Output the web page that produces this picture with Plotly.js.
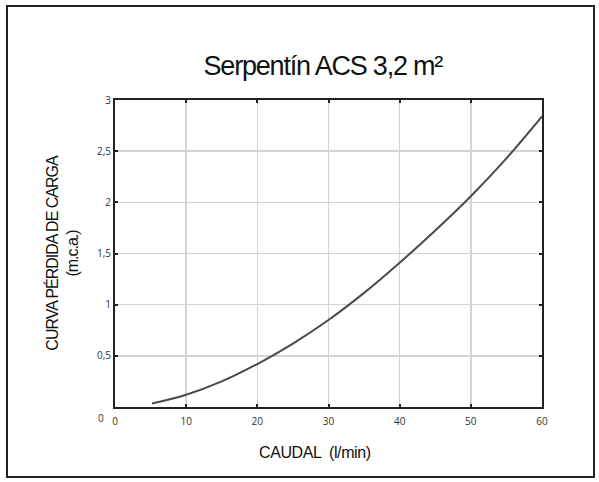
<!DOCTYPE html>
<html>
<head>
<meta charset="utf-8">
<script src="https://cdn.plot.ly/plotly-3.0.1.min.js"></script>
<style>
  body { margin: 0; padding: 0; background: #fff; }
  #wrap { position: relative; width: 599px; height: 482px; }
  #chart { position: absolute; left: 0; top: 0; width: 599px; height: 482px; }
  #frame { position: absolute; left: 6px; top: 5px; width: 585px; height: 469px; border: 2px solid #222; pointer-events: none; }
  .gtitle { letter-spacing: -1.2px; }
  .ytitle { letter-spacing: -1px; }
  .annotation-text[data-unformatted^="CAUDAL"] { letter-spacing: -0.4px; }
</style>
</head>
<body>
<div id="wrap">
  <div id="chart"></div>
  <div id="frame"></div>
</div>
<script>
// Data
const caudal = [5.2, 10, 15, 20, 25, 30, 35, 40, 45, 50, 55, 60];
const perdida = [0.034, 0.12, 0.25, 0.42, 0.62, 0.85, 1.115, 1.41, 1.725, 2.06, 2.43, 2.84];

const xTickVals = [0, 10, 20, 30, 40, 50, 60];
const xTickText = ["0", "10", "20", "30", "40", "50", "60"];
const yTickVals = [0.5, 1, 1.5, 2, 2.5, 3];
const yTickText = ["0,5", "1", "1,5", "2", "2,5", "3"];

const trace = {
  x: caudal,
  y: perdida,
  type: 'scatter',
  mode: 'lines',
  line: { color: '#4a4a4a', width: 2, shape: 'spline', smoothing: 1 },
  hoverinfo: 'skip'
};

const tickFont = { family: 'Open Sans, DejaVu Sans, sans-serif', size: 10, color: '#333' };

const layout = {
  width: 599,
  height: 482,
  margin: { l: 115, r: 57, t: 100, b: 75 },
  paper_bgcolor: '#fff',
  plot_bgcolor: '#fff',
  showlegend: false,
  title: {
    text: 'Serpentín ACS 3,2 m²',
    font: { family: 'Liberation Sans, Arial, sans-serif', size: 27, color: '#111' },
    x: 0.539, xanchor: 'center',
    y: 0.865, yanchor: 'middle'
  },
  xaxis: {
    range: [0, 60],
    tickvals: xTickVals,
    ticktext: xTickText,
    showgrid: true,
    gridcolor: '#d4d4d4',
    gridwidth: 1.5,
    zeroline: false,
    showline: true,
    linecolor: '#222',
    linewidth: 2,
    mirror: 'ticks',
    ticks: 'inside',
    ticklen: 3,
    tickcolor: '#222',
    tickwidth: 2,
    ticklabelstandoff: 4,
    tickfont: tickFont
  },
  yaxis: {
    range: [0, 3],
    tickvals: yTickVals,
    ticktext: yTickText,
    showgrid: true,
    gridcolor: '#d4d4d4',
    gridwidth: 1.5,
    zeroline: false,
    showline: true,
    linecolor: '#222',
    linewidth: 2,
    mirror: 'ticks',
    ticks: 'inside',
    ticklen: 3,
    tickcolor: '#222',
    tickwidth: 2,
    tickfont: tickFont,
    title: {
      text: 'CURVA PÉRDIDA DE CARGA<br>(m.c.a.)',
      font: { family: 'Liberation Sans, Arial, sans-serif', size: 16, color: '#111' },
      standoff: 14
    }
  },
  annotations: [{
    text: '0',
    xref: 'paper', yref: 'y',
    x: 0, y: 0,
    xanchor: 'right', yanchor: 'middle',
    xshift: -9, yshift: -11,
    showarrow: false,
    font: tickFont
  }, {
    text: 'CAUDAL  (l/min)',
    xref: 'paper', yref: 'paper',
    x: 0.468, y: 0,
    xanchor: 'center', yanchor: 'middle',
    yshift: -45,
    showarrow: false,
    font: { family: 'Liberation Sans, Arial, sans-serif', size: 16, color: '#111' }
  }]
};

Plotly.newPlot('chart', [trace], layout, { displayModeBar: false, staticPlot: true });
</script>
</body>
</html>
